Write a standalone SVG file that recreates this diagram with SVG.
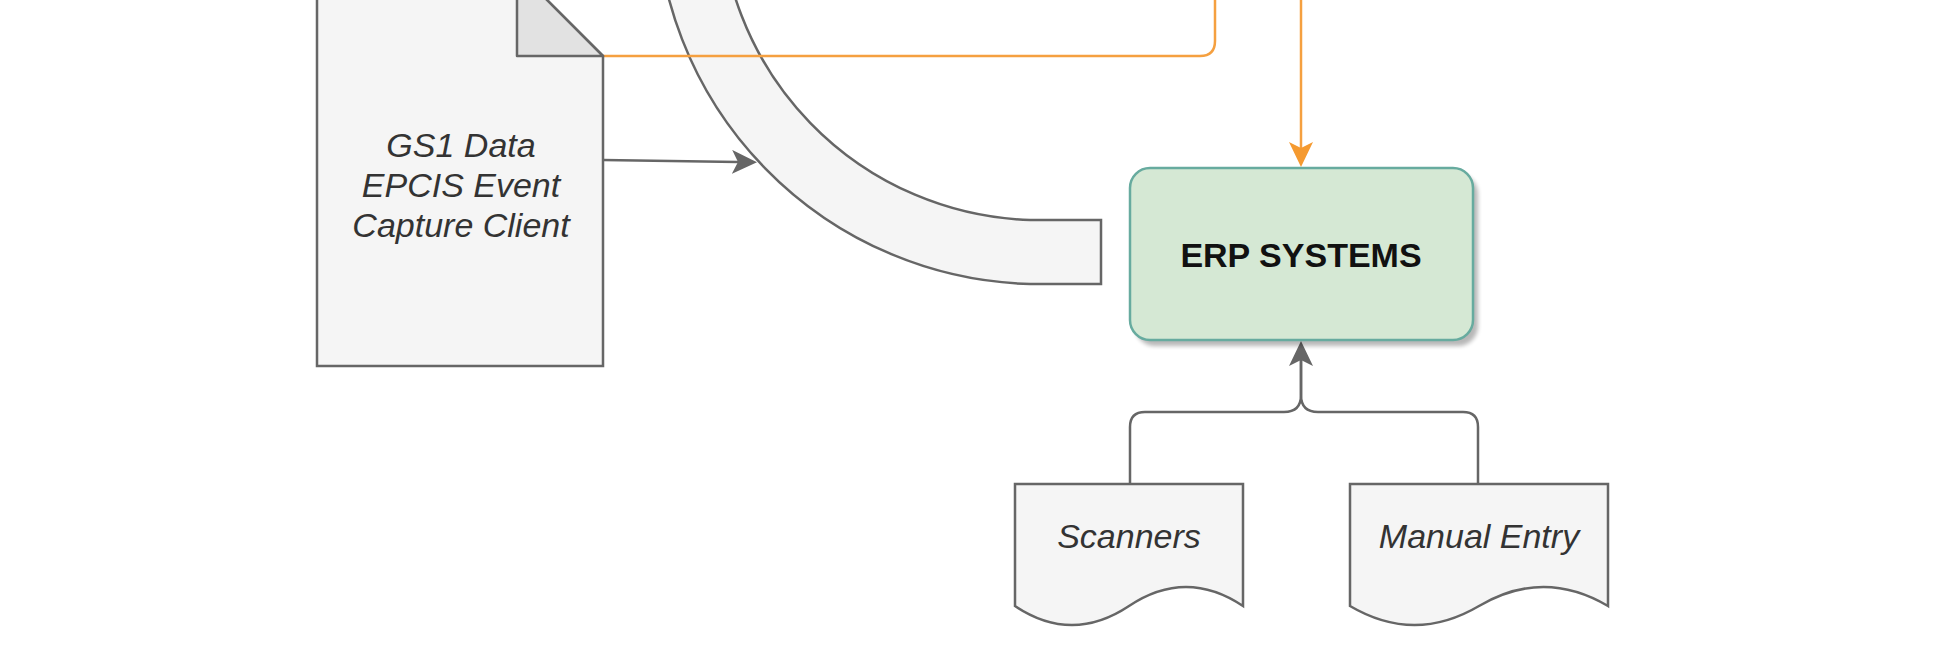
<svg xmlns="http://www.w3.org/2000/svg" width="1936" height="660" viewBox="0 0 1936 660">
  <style>
    .shape { fill: #f5f5f5; stroke: #666666; stroke-width: 2.5; }
    .fold { fill: #e2e2e2; stroke: #666666; stroke-width: 2.5; stroke-linejoin: round; }
    .lbl { font-family: "Liberation Sans", Arial, sans-serif; font-size: 34px; font-style: italic; fill: #333333; text-anchor: middle; }
    .erp { font-family: "Liberation Sans", Arial, sans-serif; font-size: 34px; font-weight: bold; fill: #111111; text-anchor: middle; }
    .conn { fill: none; stroke: #666666; stroke-width: 2.5; }
    .orange { fill: none; stroke: #f5a040; stroke-width: 2.5; }
  </style>
  <defs>
    <marker id="arrGray" viewBox="0 0 25 24" markerWidth="25" markerHeight="24" refX="6" refY="12" orient="auto" markerUnits="userSpaceOnUse">
      <path d="M0,0 L25,12 L0,24 L6,12 Z" fill="#666666"/>
    </marker>
    <marker id="arrOrange" viewBox="0 0 25 24" markerWidth="25" markerHeight="24" refX="6" refY="12" orient="auto" markerUnits="userSpaceOnUse">
      <path d="M0,0 L25,12 L0,24 L6,12 Z" fill="#f59a30"/>
    </marker>
    <filter id="shadow" x="-10%" y="-10%" width="130%" height="130%">
      <feGaussianBlur stdDeviation="2"/>
    </filter>
  </defs>
  <rect width="1936" height="660" fill="#ffffff"/>

  <g id="band">
    <path class="shape" d="M656,-100 A384,384 0 0 0 1030,284 L1101,284 L1101,220 L1030,220 A320,320 0 0 1 720,-100 Z"/>
  </g>

  <g id="connectors">
    <path class="orange" d="M603,56 H1200 Q1215,56 1215,41 V-5"/>
    <path class="orange" d="M1301,-5 V148" marker-end="url(#arrOrange)"/>
    <path class="conn" d="M603,160 L738,162" marker-end="url(#arrGray)"/>
    <path class="conn" d="M1130,484 V427 Q1130,412 1145,412 H1284 Q1301,412 1301,395 V360" marker-end="url(#arrGray)"/>
    <path class="conn" d="M1478,484 V427 Q1478,412 1463,412 H1318 Q1301,412 1301,395 V360"/>
  </g>

  <g id="gs1-doc">
    <path class="shape" d="M317,-30 H517 L603,56 V366 H317 Z"/>
    <path class="fold" d="M517,-30 V56 H603 Z"/>
    <text class="lbl" x="461" y="157">GS1 Data</text>
    <text class="lbl" x="461" y="197">EPCIS Event</text>
    <text class="lbl" x="461" y="237">Capture Client</text>
  </g>

  <g id="erp">
    <rect x="1135" y="174" width="343" height="172" rx="20" fill="#000000" opacity="0.28" filter="url(#shadow)"/>
    <rect x="1130" y="168" width="343" height="172" rx="20" fill="#d5e8d4" stroke="#67ab9f" stroke-width="2.5"/>
    <text class="erp" x="1301" y="267">ERP SYSTEMS</text>
  </g>

  <g id="scanners">
    <path class="shape" d="M1015,484 H1243 V606 Q1186,568 1129,606 Q1072,644 1015,606 Z"/>
    <text class="lbl" x="1129" y="548">Scanners</text>
  </g>

  <g id="manual-entry">
    <path class="shape" d="M1350,484 H1608 V606 Q1543.5,568 1479,606 Q1414.5,644 1350,606 Z"/>
    <text class="lbl" x="1479" y="548">Manual Entry</text>
  </g>
</svg>
